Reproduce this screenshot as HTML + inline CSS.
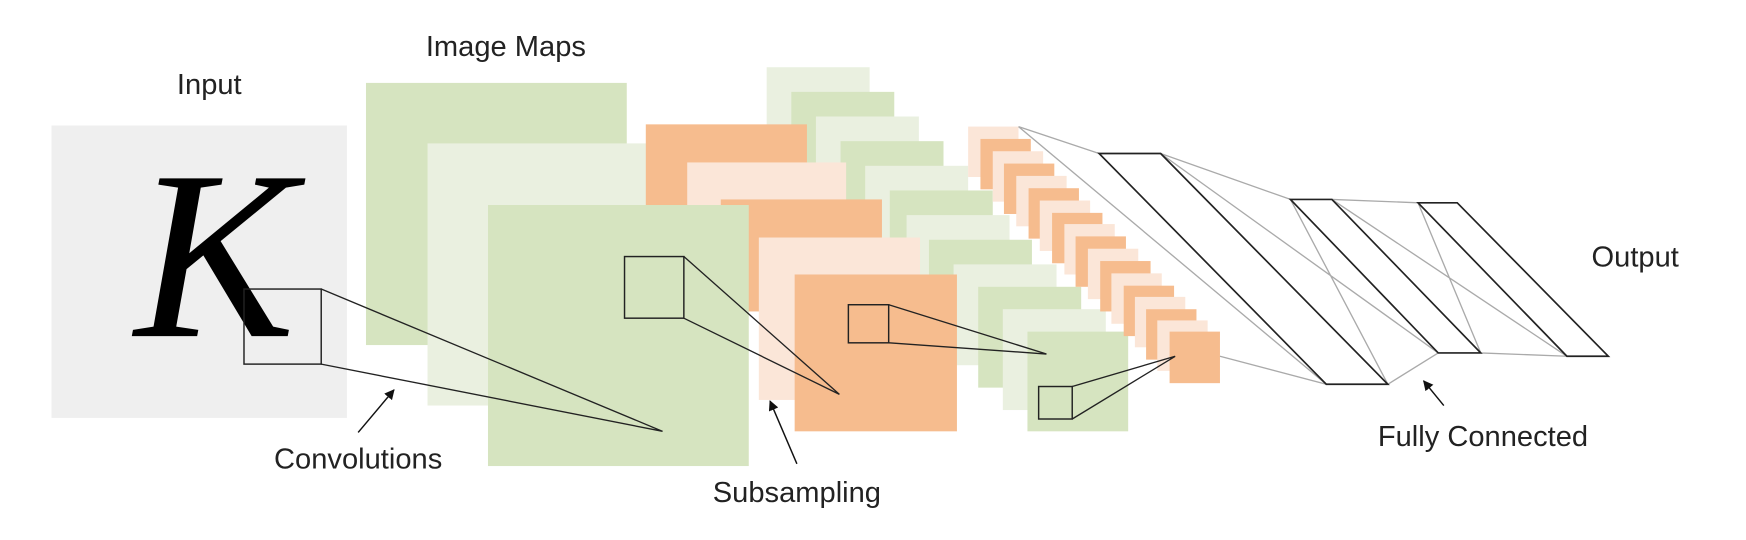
<!DOCTYPE html>
<html><head><meta charset="utf-8"><style>
html,body{margin:0;padding:0;background:#fff;width:1746px;height:540px;overflow:hidden}
svg{display:block}
text{font-family:"Liberation Sans",sans-serif;fill:#222}
</style></head><body>
<svg width="1746" height="540" viewBox="0 0 1560 482" preserveAspectRatio="none" xmlns="http://www.w3.org/2000/svg">
<defs><marker id="ah" viewBox="0 0 10 10" refX="9" refY="5" markerWidth="7" markerHeight="7" orient="auto"><path d="M0,0 L10,5 L0,10 z" fill="#111"/></marker></defs>
<text x="187" y="84" font-size="26" text-anchor="middle">Input</text>
<text x="452" y="50" font-size="26" text-anchor="middle">Image Maps</text>
<text x="1461" y="238" font-size="26" text-anchor="middle">Output</text>
<text x="320" y="418" font-size="26" text-anchor="middle">Convolutions</text>
<text x="712" y="448" font-size="26" text-anchor="middle">Subsampling</text>
<text x="1325" y="398" font-size="26" text-anchor="middle">Fully Connected</text>

<rect x="46" y="112" width="264" height="261" fill="#efefef"/>
<text x="192" y="300" font-size="215" font-style="italic" text-anchor="middle" style="font-family:'Liberation Serif',serif;fill:#000">K</text>
<rect x="218" y="258" width="69" height="67" fill="none" stroke="#222" stroke-width="1.3"/>

<rect x="327" y="74" width="233" height="234" fill="#d6e4c0"/>
<rect x="382" y="128" width="232" height="234" fill="#eaf0e0"/>

<g>
<rect x="685" y="60" width="92" height="90" fill="#eaf0e0"/>
<rect x="707" y="82" width="92" height="90" fill="#d6e4c0"/>
<rect x="729" y="104" width="92" height="90" fill="#eaf0e0"/>
<rect x="751" y="126" width="92" height="90" fill="#d6e4c0"/>
<rect x="773" y="148" width="92" height="90" fill="#eaf0e0"/>
<rect x="795" y="170" width="92" height="90" fill="#d6e4c0"/>
<rect x="810" y="192" width="92" height="90" fill="#eaf0e0"/>
<rect x="830" y="214" width="92" height="90" fill="#d6e4c0"/>
<rect x="852" y="236" width="92" height="90" fill="#eaf0e0"/>
<rect x="874" y="256" width="92" height="90" fill="#d6e4c0"/>
<rect x="896" y="276" width="92" height="90" fill="#eaf0e0"/>
</g>

<rect x="577" y="111" width="144" height="100" fill="#f6bc8e"/>
<rect x="614" y="145" width="142" height="100" fill="#fbe6d8"/>
<rect x="644" y="178" width="144" height="100" fill="#f6bc8e"/>
<rect x="678" y="212" width="144" height="145" fill="#fbe6d8"/>

<rect x="436" y="183" width="233" height="233" fill="#d6e4c0"/>
<rect x="558" y="229" width="53" height="55" fill="none" stroke="#222" stroke-width="1.3"/>

<rect x="710" y="245" width="145" height="140" fill="#f6bc8e"/>
<rect x="758" y="272" width="36" height="34" fill="none" stroke="#222" stroke-width="1.3"/>

<rect x="918" y="296" width="90" height="89" fill="#d6e4c0"/>
<rect x="928" y="345" width="30" height="29" fill="none" stroke="#222" stroke-width="1.3"/>

<rect x="865" y="113" width="45" height="45" fill="#fbe6d8"/>
<rect x="876" y="124" width="45" height="45" fill="#f6bc8e"/>
<rect x="887" y="135" width="45" height="45" fill="#fbe6d8"/>
<rect x="897" y="146" width="45" height="45" fill="#f6bc8e"/>
<rect x="908" y="157" width="45" height="45" fill="#fbe6d8"/>
<rect x="919" y="168" width="45" height="45" fill="#f6bc8e"/>
<rect x="929" y="179" width="45" height="45" fill="#fbe6d8"/>
<rect x="940" y="190" width="45" height="45" fill="#f6bc8e"/>
<rect x="951" y="200" width="45" height="45" fill="#fbe6d8"/>
<rect x="961" y="211" width="45" height="45" fill="#f6bc8e"/>
<rect x="972" y="222" width="45" height="45" fill="#fbe6d8"/>
<rect x="983" y="233" width="45" height="45" fill="#f6bc8e"/>
<rect x="993" y="244" width="45" height="45" fill="#fbe6d8"/>
<rect x="1004" y="255" width="45" height="45" fill="#f6bc8e"/>
<rect x="1014" y="265" width="45" height="45" fill="#fbe6d8"/>
<rect x="1024" y="276" width="45" height="45" fill="#f6bc8e"/>
<rect x="1034" y="286" width="45" height="45" fill="#fbe6d8"/>
<rect x="1045" y="296" width="45" height="46" fill="#f6bc8e"/>

<g stroke="#222" stroke-width="1.2" fill="none">
<path d="M287,258 L592,385 M287,325 L592,385"/>
<path d="M611,229 L750,352 M611,284 L750,352"/>
<path d="M794,272 L935,316 M794,306 L935,316"/>
<path d="M958,345 L1050,318 M958,374 L1050,318"/>
</g>

<g stroke="#aaa" stroke-width="1.2" fill="none">
<path d="M910,113 L982,137 M910,113 L1185,343 M1090,318 L1185,343"/>
<path d="M1037,137 L1153,178 M1037,137 L1285,315 M1153,178 L1240,343 M1240,343 L1285,315"/>
<path d="M1190,178 L1267,181 M1190,178 L1400,318 M1267,181 L1323,315 M1323,315 L1400,318"/>
</g>
<g stroke="#222" stroke-width="1.5" fill="none">
<path d="M982,137 L1037,137 L1240,343 L1185,343 Z"/>
<path d="M1153,178 L1190,178 L1323,315 L1285,315 Z"/>
<path d="M1267,181 L1302,181 L1437,318 L1400,318 Z"/>
</g>

<g stroke="#111" stroke-width="1.3" marker-end="url(#ah)">
<line x1="320" y1="386" x2="352" y2="348"/>
<line x1="712" y1="414" x2="688" y2="358"/>
<line x1="1290" y1="362" x2="1272" y2="340"/>
</g>
</svg>
</body></html>
